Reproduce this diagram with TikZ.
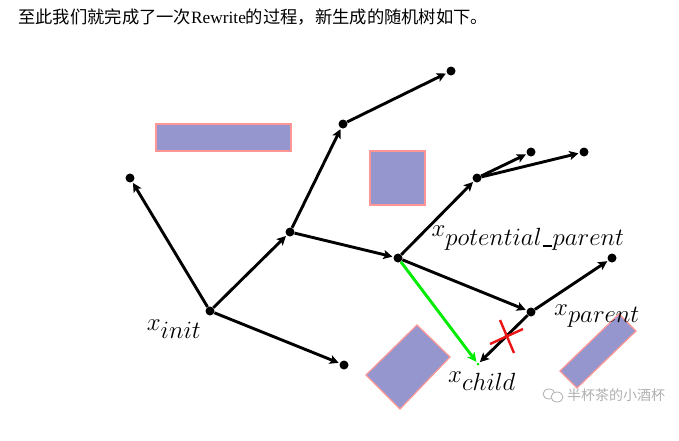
\documentclass[tikz,border=0pt]{standalone}
\usepackage{fontspec}
\newfontfamily\cjk{Noto Sans CJK SC}
\newfontfamily\latinserif{Liberation Serif}
\usetikzlibrary{arrows.meta}
\definecolor{obsfill}{RGB}{150,150,206}
\definecolor{obsdraw}{RGB}{255,150,150}
\definecolor{newgreen}{RGB}{0,235,0}
\definecolor{xred}{RGB}{235,20,20}
\definecolor{wmgray}{RGB}{175,175,175}
\newcommand{\shortunder}{\kern1pt\rule[-1.5pt]{9pt}{1.3pt}\kern1pt}
\tikzset{
  vert/.style={circle,fill=black,inner sep=0pt,minimum size=9pt},
  edge/.style={line width=2.9pt,-{Stealth[length=9pt,width=9pt,inset=2pt]},shorten >=1pt},
  obstacle/.style={fill=obsfill,draw=obsdraw,line width=1.2pt},
  lbl/.style={inner sep=0pt,font=\fontsize{36}{38}\selectfont},
}
\begin{document}
\begin{tikzpicture}[x=1pt,y=-1pt]
\useasboundingbox (0,0) rectangle (679,440);
\node[anchor=west,inner sep=0pt,font=\cjk\fontsize{17.3}{19}\selectfont] (hdr) at (18,17) {至此我们就完成了一次{\latinserif Rewrite}的过程，新生成的随机树如下。};
% obstacles
\draw[obstacle] (156,124) rectangle (291,151);
\draw[obstacle] (370,151) rectangle (425,205);
\draw[obstacle] (366,375) -- (417,325) -- (450,357) -- (400,409) -- cycle;
\draw[obstacle] (560,371) -- (619,314) -- (636,331) -- (577,388) -- cycle;
% vertices
\node[vert] (init) at (210,311) {};
\node[vert] (a) at (130,178) {};
\node[vert] (b) at (344,365) {};
\node[vert] (c) at (290,232) {};
\node[vert] (d) at (343,124) {};
\node[vert] (e) at (451,71) {};
\node[vert] (p) at (398,258) {};
\node[vert] (f) at (477,178) {};
\node[vert] (g) at (531,152) {};
\node[vert] (h) at (584,152) {};
\node[vert] (q) at (531,312) {};
\node[vert] (i) at (612,258) {};
\node[vert,fill=newgreen,minimum size=3pt] (ch) at (478,364) {};
% edges
\draw[edge] (init) -- (a);
\draw[edge] (init) -- (c);
\draw[edge] (init) -- (b);
\draw[edge] (c) -- (d);
\draw[edge] (d) -- (e);
\draw[edge] (c) -- (p);
\draw[edge] (p) -- (f);
\draw[edge] (f) -- (g);
\draw[edge] (f) -- (h);
\draw[edge] (p) -- (q);
\draw[edge] (q) -- (i);
\draw[edge] (q) -- (ch);
\draw[edge,newgreen] (p) -- (ch);
% red cross
\coordinate (x1) at (490,344);
\coordinate (x2) at (523,329);
\coordinate (x3) at (500,320);
\coordinate (x4) at (514,353);
\draw[xred,line width=2.4pt] (x1) -- (x2);
\draw[xred,line width=2.4pt] (x3) -- (x4);
% labels
\node[lbl] (linit) at (174,329) {$x_{init}$};
\node[lbl] (lpp) at (528,238) {$x_{potential\shortunder parent}$};
\node[lbl] (lpar) at (597,316) {$x_{parent}$};
\node[lbl] (lch) at (482,381) {$x_{child}$};
% watermark
\draw[wmgray,line width=0.8pt] (549,394) ellipse (6pt and 5pt);
\draw[wmgray,line width=0.8pt,fill=white] (557,397) ellipse (6pt and 5pt);
\node[anchor=west,inner sep=0pt,text=wmgray,font=\cjk\fontsize{14}{15}\selectfont] (wm) at (567,395) {半杯茶的小酒杯};
\end{tikzpicture}
\end{document}
